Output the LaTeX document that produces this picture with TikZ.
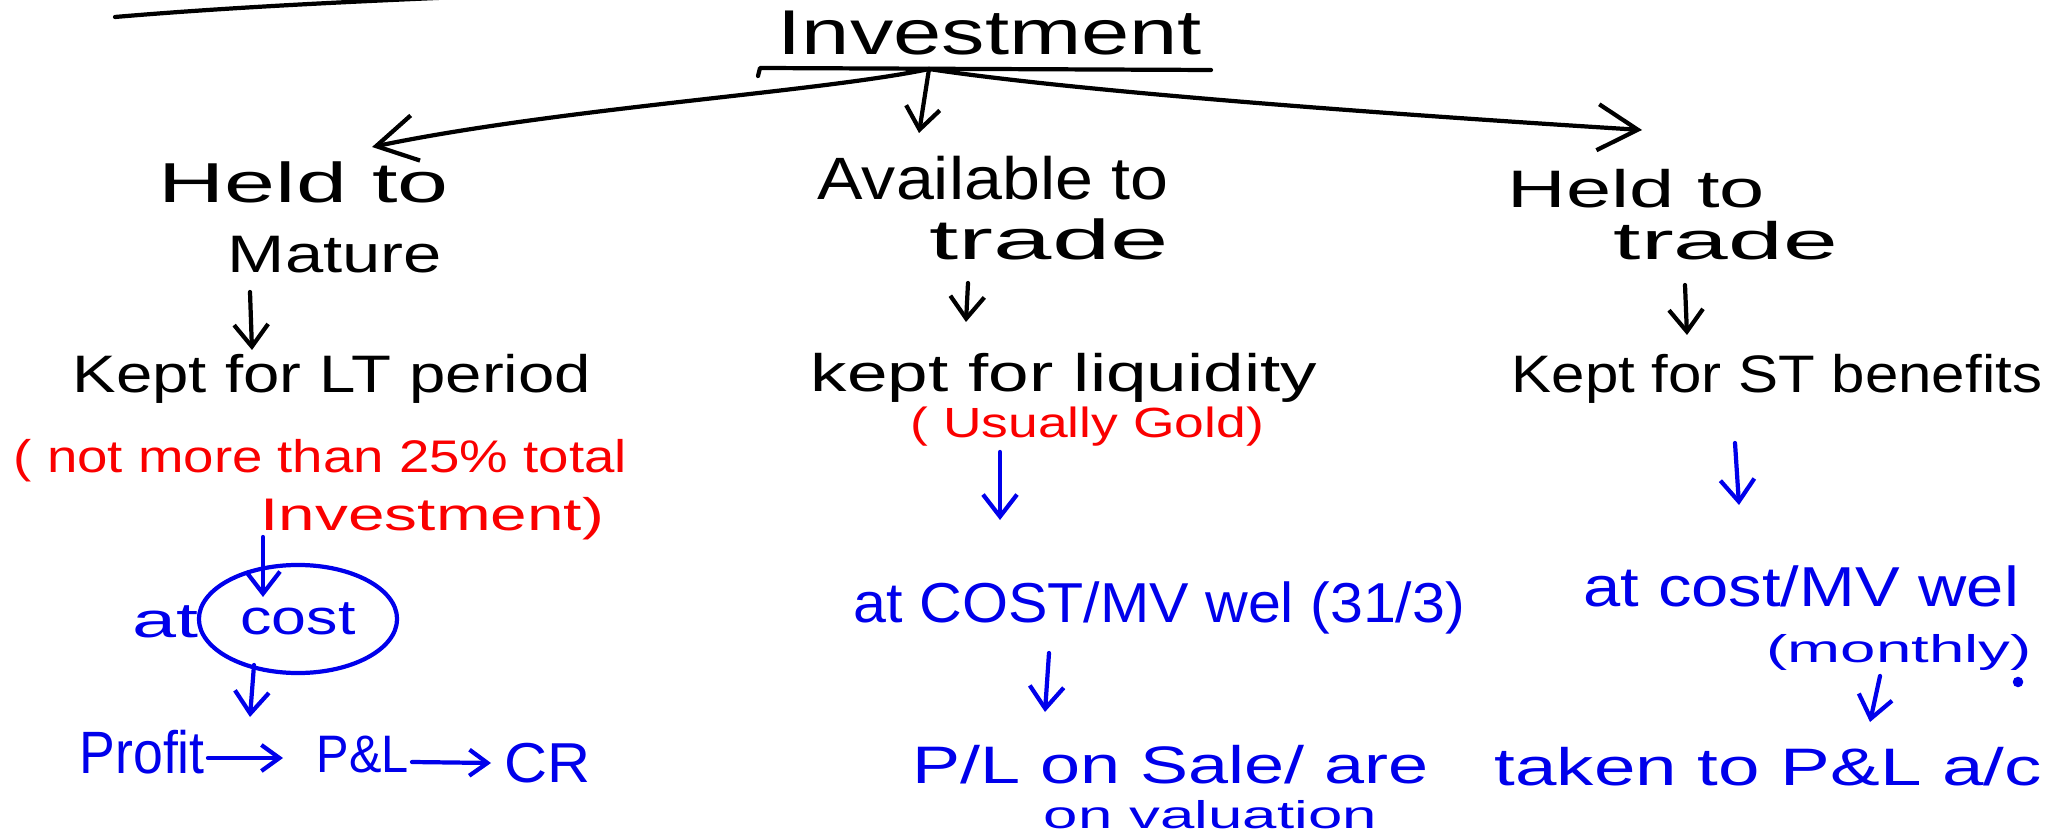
\documentclass[tikz,border=0pt]{standalone}
\usepackage{fontspec}
\setmainfont{Liberation Sans}
\usepackage{graphicx}
\usetikzlibrary{arrows.meta,shapes.geometric}
\definecolor{hwred}{RGB}{250,0,0}
\definecolor{hwblue}{RGB}{0,0,235}
\newcommand{\fitw}[2]{\resizebox{#1}{\height}{#2}}
\newcommand{\fs}[1]{\fontsize{#1}{#1}\selectfont}
\tikzset{
  txt/.style={inner sep=0pt, anchor=base west},
  ink/.style={line width=1.2pt, line cap=round, line join=round},
  bigarr/.style={ink, -{Straight Barb[length=4mm,width=4.6mm]}},
  arr/.style={ink, -{Straight Barb[length=2.2mm,width=3.4mm]}},
  sarr/.style={ink, -{Straight Barb[length=1.8mm,width=2.6mm]}},
}
\begin{document}
\begin{tikzpicture}[x=0.01cm,y=-0.01cm]
\useasboundingbox (0,0) rectangle (2067,837);
\fill[white] (0,0) rectangle (2067,837);

% ---------- black ----------
\draw[ink] (115,17) .. controls (220,8) and (340,2) .. (460,-3);
\node[txt,font=\fs{18}] (inv) at (777,55) {\fitw{4.24cm}{Investment}};
\draw[ink] (758,76) -- (760,68) -- (1211,70);

\coordinate (root) at (929,69);
\coordinate (tipL) at (372,147);
\coordinate (tipM) at (919,133);
\coordinate (tipR) at (1642,130);
\draw[bigarr] (root) .. controls (820,92) and (560,108) .. (tipL);
\draw[arr] (root) -- (tipM);
\draw[bigarr] (root) .. controls (1080,92) and (1400,115) .. (tipR);

\node[txt,font=\fs{16}] (hl1) at (158,203) {\fitw{2.90cm}{Held to}};
\node[txt,font=\fs{15}] (hl2) at (227,273) {\fitw{2.14cm}{Mature}};
\node[txt,font=\fs{17}] (am1) at (817,200) {\fitw{3.51cm}{Available to}};
\node[txt,font=\fs{16}] (am2) at (929,260) {\fitw{2.39cm}{trade}};
\node[txt,font=\fs{15}] (hr1) at (1507,208) {\fitw{2.57cm}{Held to}};
\node[txt,font=\fs{15}] (hr2) at (1613,260) {\fitw{2.24cm}{trade}};

\coordinate (a1s) at (250,292); \coordinate (a1e) at (252,350);
\coordinate (a2s) at (968,283); \coordinate (a2e) at (966,322);
\coordinate (a3s) at (1685,285); \coordinate (a3e) at (1687,335);
\draw[arr] (a1s) -- (a1e);
\draw[arr] (a2s) -- (a2e);
\draw[arr] (a3s) -- (a3e);

\node[txt,font=\fs{15}] (kl) at (72,393) {\fitw{5.18cm}{Kept for LT period}};
\node[txt,font=\fs{15}] (km) at (810,392) {\fitw{5.06cm}{kept for liquidity}};
\node[txt,font=\fs{15}] (kr) at (1511,393) {\fitw{5.30cm}{Kept for ST benefits}};

% ---------- red ----------
\node[txt,hwred,font=\fs{13}] (r1) at (13,472) {\fitw{6.13cm}{( not more than 25\% total}};
\node[txt,hwred,font=\fs{13}] (r2) at (260,530) {\fitw{3.43cm}{Investment)}};
\node[txt,hwred,font=\fs{12}] (r3) at (910,438) {\fitw{3.53cm}{( Usually Gold)}};

% ---------- blue ----------
\node[txt,hwblue,font=\fs{14}] (at1) at (132,637) {\fitw{0.66cm}{at}};
\node[draw=hwblue,ink,ellipse,minimum width=1.98cm,minimum height=1.08cm,inner sep=0pt,
      text=hwblue,font=\fs{14}] (cost) at (298,619) {\fitw{1.15cm}{cost}};
\node[txt,hwblue,font=\fs{17}] (pr) at (79,773) {\fitw{1.25cm}{Profit}};
\node[txt,hwblue,font=\fs{15}] (pl) at (316,772) {\fitw{0.92cm}{P\&L}};
\node[txt,hwblue,font=\fs{16}] (cr) at (504,782) {\fitw{0.86cm}{CR}};

\node[txt,hwblue,font=\fs{16}] (m1) at (853,622) {\fitw{6.11cm}{at COST/MV wel (31/3)}};
\node[txt,hwblue,font=\fs{16}] (q1) at (1583,606) {\fitw{4.35cm}{at cost/MV wel}};
\node[txt,hwblue,font=\fs{11}] (q2) at (1766,662) {\fitw{2.65cm}{(monthly)}};
\fill[hwblue] (2018,682) circle (1.5pt);

\node[txt,hwblue,font=\fs{15}] (b1) at (912,783) {\fitw{5.16cm}{P/L on Sale/ are}};
\node[txt,hwblue,font=\fs{15}] (b2) at (1494,785) {\fitw{5.47cm}{taken to P\&L a/c}};
\node[txt,hwblue,font=\fs{11}] (b3) at (1043,828) {\fitw{3.33cm}{on valuation}};

\coordinate (c1s) at (263,537); \coordinate (c1e) at (263,597);
\coordinate (c2s) at (254,665); \coordinate (c2e) at (250,717);
\coordinate (c3s) at (208,758); \coordinate (c3e) at (283,758);
\coordinate (c4s) at (412,762); \coordinate (c4e) at (491,763);
\coordinate (c5s) at (1000,452); \coordinate (c5e) at (1000,520);
\coordinate (c6s) at (1735,443); \coordinate (c6e) at (1739,505);
\coordinate (c7s) at (1049,653); \coordinate (c7e) at (1045,712);
\coordinate (c8s) at (1880,676); \coordinate (c8e) at (1870,722);
\begin{scope}[hwblue]
\draw[arr] (c1s) -- (c1e);
\draw[arr] (c2s) -- (c2e);
\draw[sarr] (c3s) -- (c3e);
\draw[sarr] (c4s) -- (c4e);
\draw[arr] (c5s) -- (c5e);
\draw[arr] (c6s) -- (c6e);
\draw[arr] (c7s) -- (c7e);
\draw[arr] (c8s) -- (c8e);
\end{scope}
\end{tikzpicture}
\end{document}
